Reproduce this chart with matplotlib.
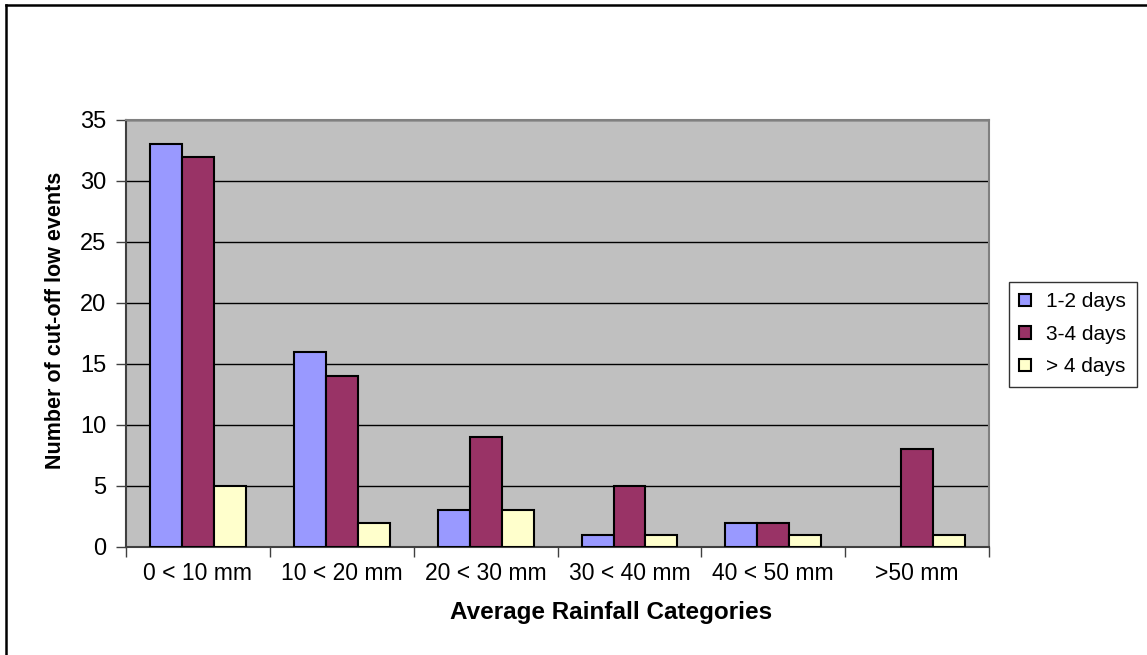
import numpy as np
import matplotlib
matplotlib.use("Agg")
import matplotlib.pyplot as plt
from matplotlib.lines import Line2D

# rainfall categories and event counts per cut-off low duration
categories = ["0 < 10 mm", "10 < 20 mm", "20 < 30 mm", "30 < 40 mm", "40 < 50 mm", ">50 mm"]
days_1_2 = [33, 16, 3, 1, 2, 0]
days_3_4 = [32, 14, 9, 5, 2, 8]
days_gt4 = [5, 2, 3, 1, 1, 1]
series_names = ["1-2 days", "3-4 days", "> 4 days"]
colors = ["#9999FF", "#993366", "#FFFFCC"]

plt.rcParams['font.family'] = ['Liberation Sans', 'DejaVu Sans']

fig = plt.figure(figsize=(11.47, 6.55), dpi=100)
ax = fig.add_axes([0.1099, 0.1649, 0.7524, 0.6519])
ax.set_facecolor("#C0C0C0")

x = np.arange(len(categories))
w = 0.222
for i, (vals, name, col) in enumerate(zip([days_1_2, days_3_4, days_gt4], series_names, colors)):
    lw = [1.5 if v > 0 else 0 for v in vals]
    ax.bar(x + (i - 1) * w, vals, width=w, color=col, edgecolor="black",
           linewidth=lw, label=name, zorder=3)

ax.set_xlim(-0.5, len(categories) - 0.5)
ax.set_ylim(0, 35)
ax.set_yticks(np.arange(0, 36, 5))
ax.yaxis.grid(True, color="black", linewidth=1.0, zorder=1)
ax.set_axisbelow(True)

# category labels centred, ticks on the boundaries
ax.set_xticks(np.append(x - 0.5, len(categories) - 0.5))
ax.set_xticklabels([])
ax.set_xticks(x, minor=True)
ax.set_xticklabels(categories, minor=True)
ax.tick_params(axis="x", which="major", length=7, width=1.0, color="#404040", direction="out")
ax.tick_params(axis="x", which="minor", length=0, labelsize=16.5, pad=11)
ax.tick_params(axis="y", length=7, width=1.0, color="#404040", direction="out",
               labelsize=17, pad=7)

for side in ["top", "right"]:
    ax.spines[side].set_color("#808080")
    ax.spines[side].set_linewidth(1.5)
for side in ["left", "bottom"]:
    ax.spines[side].set_color("#404040")
    ax.spines[side].set_linewidth(1.5)

ax.set_xlabel("Average Rainfall Categories", fontsize=17.5, fontweight="bold", labelpad=11)
ax.xaxis.label.set_x(0.562)
ax.set_ylabel("Number of cut-off low events", fontsize=15.5, fontweight="bold", labelpad=10)
ax.yaxis.label.set_y(0.53)

leg = fig.legend(loc="upper left", bbox_to_anchor=(1009 / 1147, 1 - 282 / 655),
                 fontsize=15, frameon=True, fancybox=False, edgecolor="black",
                 handlelength=0.55, handleheight=0.55, handletextpad=0.75,
                 labelspacing=0.65, borderpad=0.5, borderaxespad=0)
leg.get_frame().set_linewidth(1.0)

# outer frame of the chart area
fig.add_artist(Line2D([6 / 1147, 1.0], [1 - 5 / 655] * 2, color="black", linewidth=1.8,
                      transform=fig.transFigure))
fig.add_artist(Line2D([6 / 1147] * 2, [0, 1 - 5 / 655], color="black", linewidth=1.8,
                      transform=fig.transFigure))

plt.savefig("out.png", dpi=100)
plt.close("all")
